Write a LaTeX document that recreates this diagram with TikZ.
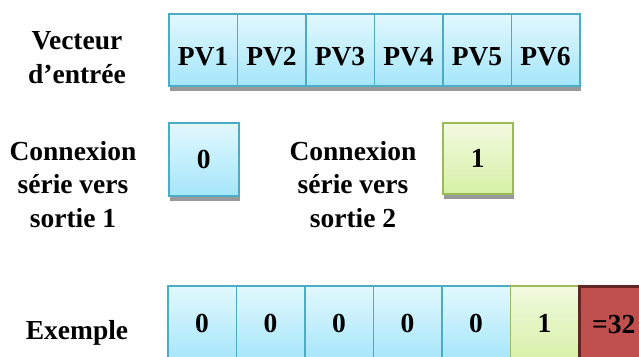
\documentclass[tikz,border=0pt]{standalone}
\usepackage{fontspec}
\setmainfont{Liberation Serif}
\usetikzlibrary{shadows}
\definecolor{bluebd}{HTML}{4BACC6}
\definecolor{bluetop}{HTML}{E2F8FE}
\definecolor{bluebot}{HTML}{A5E6FA}
\definecolor{greenbd}{HTML}{9BBB59}
\definecolor{greentop}{HTML}{F2FAE0}
\definecolor{greenbot}{HTML}{D6F0A6}
\definecolor{redfill}{HTML}{C0504D}
\definecolor{redbd}{HTML}{632523}
\begin{document}
\begin{tikzpicture}[x=1pt,y=-1pt,
  txt/.style={font=\fontsize{27.5}{33.5}\selectfont\bfseries, inner sep=0pt, align=center},
  boxbase/.style={txt, line width=1.5pt, anchor=north west, minimum width=68.5pt},
  shadowed/.style={drop shadow={shadow xshift=1pt, shadow yshift=-5pt, fill=black!40, opacity=1}},
  bluecell/.style={boxbase, draw=bluebd, top color=bluetop, bottom color=bluebot},
  greencell/.style={boxbase, draw=greenbd, top color=greentop, bottom color=greenbot},
  redcell/.style={boxbase, draw=redbd, fill=redfill, line width=3pt}
]
\useasboundingbox (0,0) rectangle (639,356);
\fill[white] (0,0) rectangle (639,356);

% top row
\foreach \i in {0,...,5}{
  \pgfmathtruncatemacro{\n}{\i+1}
  \node[bluecell, shadowed, minimum height=72pt, text height=31pt, text depth=0pt]
    (pv\n) at ({168+68.5*\i},13) {PV\n};
}

% middle boxes
\node[bluecell, shadowed, minimum width=70pt, minimum height=73pt] (c0) at (168,122) {0};
\node[greencell, shadowed, minimum width=70pt, minimum height=71pt] (c1) at (442,122) {1};

% bottom row
\foreach \i in {0,...,4}{
  \node[bluecell, minimum height=76pt] (e\i) at ({167+68.5*\i},285) {0};
}
\node[greencell, minimum height=76pt] (e5) at ({167+68.5*5},285) {1};
\node[redcell, minimum height=76pt] (e6) at ({167+68.5*6},285) {=32};

% labels (base anchor = baseline of the last line)
\node[txt, anchor=base] (lv) at (77,83) {Vecteur\\d’entrée};
\node[txt, anchor=base] (l1) at (73,227) {Connexion\\série vers\\sortie 1};
\node[txt, anchor=base] (l2) at (353,227) {Connexion\\série vers\\sortie 2};
\node[txt, anchor=base] (le) at (77,339) {Exemple};
\end{tikzpicture}
\end{document}
